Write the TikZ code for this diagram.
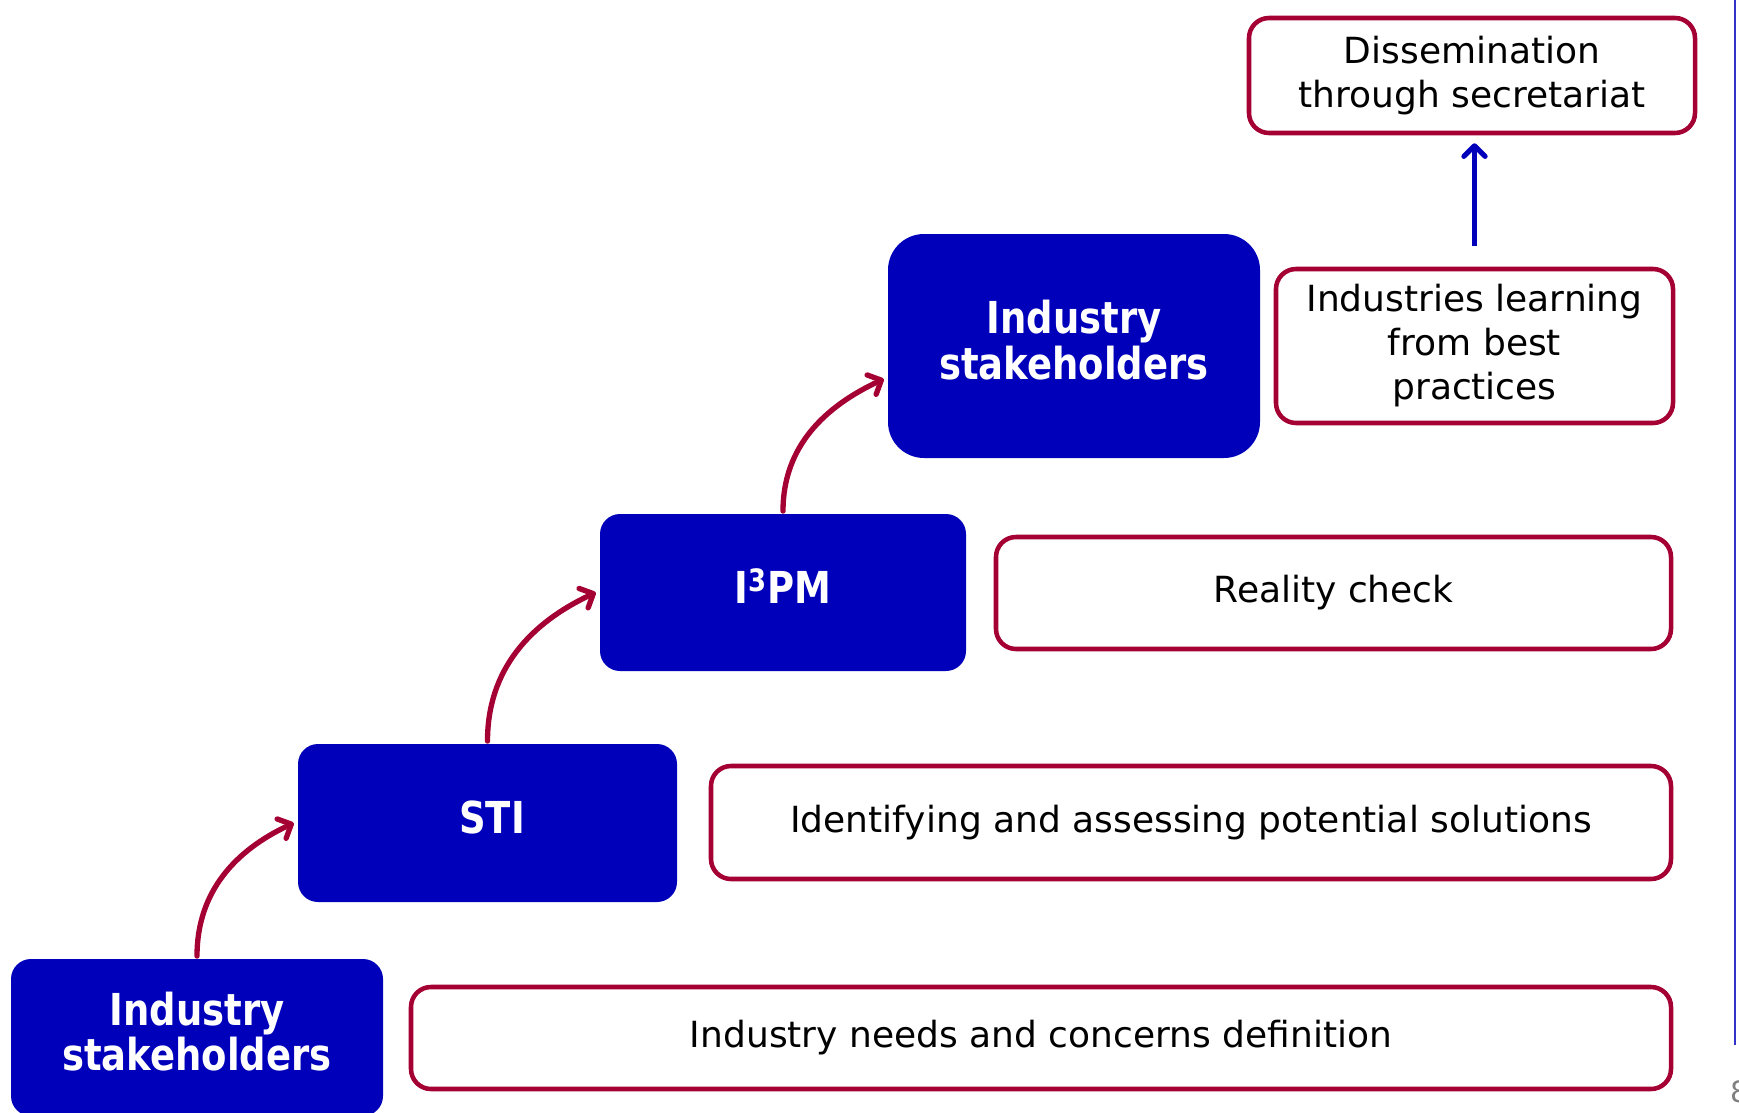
\documentclass[tikz,border=0pt]{standalone}
\usepackage{fontspec}
\setmainfont{DejaVu Sans}
\newfontfamily\stagefont{DejaVu Sans}[FakeStretch=0.84]
\usetikzlibrary{arrows.meta}
\definecolor{deepblue}{RGB}{0,0,187}
\definecolor{wine}{RGB}{165,0,52}
\begin{document}
\begin{tikzpicture}[x=0.75pt,y=-0.75pt,
  stage/.style={fill=deepblue, draw=none, rounded corners=15pt, inner sep=0pt},
  stagetext/.style={text=white, font=\stagefont\bfseries\fontsize{33}{34}\selectfont,
    align=center, inner sep=0pt, yshift=4.5pt},
  task/.style={draw=wine, line width=3.4pt, fill=white, rounded corners=15pt,
    font=\fontsize{27}{33}\selectfont, align=center, inner sep=0pt, text=black},
  climb/.style={draw=wine, line width=4pt, line cap=round,
    -{Straight Barb[length=8pt,width=16pt,round]}},
  lift/.style={draw=deepblue, line width=3.75pt,
    -{Straight Barb[length=8pt,width=16pt,round]}}
]
\useasboundingbox (0,0) rectangle (1739,1113);

% blue stages
\node[stage, minimum width=279pt, minimum height=117.75pt,
  label={[stagetext]center:Industry\\stakeholders}] (is1) at (197,1037.5) {};
\node[stage, minimum width=284.25pt, minimum height=118.5pt,
  label={[stagetext, xshift=3.5pt]center:STI}] (sti) at (487.5,823) {};
\node[stage, minimum width=274.5pt, minimum height=117.75pt,
  label={[stagetext]center:I\textsuperscript{3}PM}] (ipm) at (783,592.5) {};
\node[stage, rounded corners=27pt, minimum width=279pt, minimum height=168pt,
  label={[stagetext]center:Industry\\stakeholders}] (is2) at (1074,346) {};

% outlined activities
\node[task, minimum width=945pt, minimum height=76.5pt] (needs) at (1041,1038) {Industry needs and concerns definition};
\node[task, minimum width=720pt, minimum height=84.75pt] (ident) at (1191,822.5) {Identifying and assessing potential solutions};
\node[task, minimum width=506.25pt, minimum height=84pt] (real) at (1333.5,593) {Reality check};
\node[task, minimum width=297.75pt, minimum height=115.5pt] (learn) at (1474.5,346) {Industries learning\\from best\\practices};
\node[task, minimum width=334.5pt, minimum height=86.25pt] (diss) at (1472,75.5) {Dissemination\\through secretariat};

% climbing arrows
\draw[climb] ([yshift=2pt]is1.north) to[out=90,in=205] ([xshift=-3pt]sti.west);
\draw[climb] ([yshift=2pt]sti.north) to[out=90,in=205] ([xshift=-3pt]ipm.west);
\draw[climb] ([yshift=2pt]ipm.north) to[out=90,in=205] ([xshift=-3pt,yshift=-24.75pt]is2.west);

% upward arrow
\draw[lift, shorten <=15.75pt, shorten >=6pt] (learn.north) -- (learn.north |- diss.south);

% side rule and page number
\coordinate (rtop) at (1735,0);
\coordinate (rbot) at (1735,1045);
\draw[deepblue!80, line width=1.5pt] (rtop) -- (rbot);
\node[text=gray, font=\fontsize{22}{22}\selectfont, inner sep=0pt] (pg) at (1740,1092) {8};
\end{tikzpicture}
\end{document}
